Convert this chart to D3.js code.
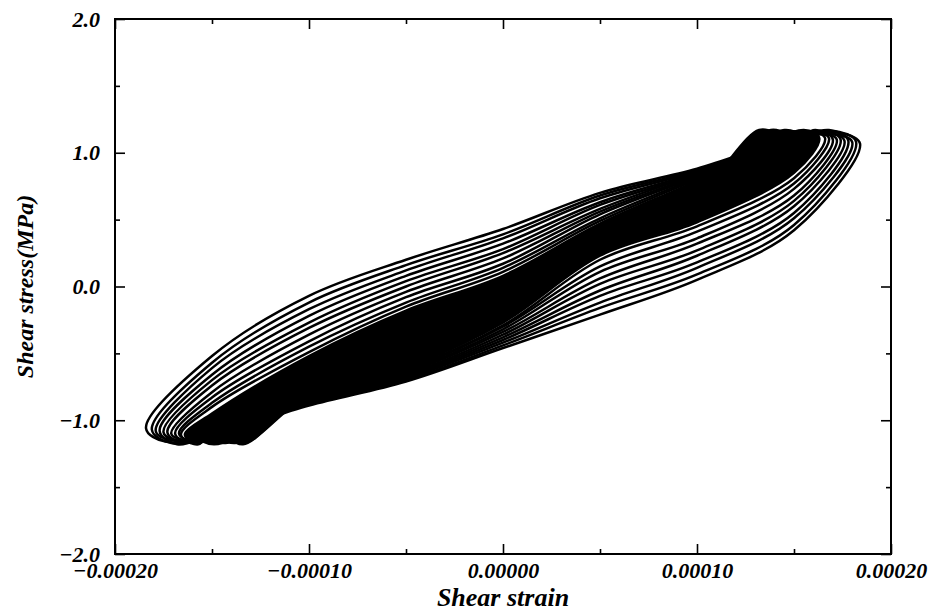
<!DOCTYPE html>
<html>
<head>
<meta charset="utf-8">
<script src="https://cdn.jsdelivr.net/npm/d3@7"></script>
<style>
  body { margin: 0; background: #fff; }
  svg text { font-family: "Liberation Serif", "Times New Roman", serif; font-style: italic; font-weight: bold; fill: #000; }
  .loop { fill: none; stroke: #000; stroke-width: 2.5; stroke-linejoin: round; }
  .loop.dense { fill: #000; }
  .axis path { display: none; }
  .axis line { stroke: #000; stroke-width: 1.6; }
</style>
</head>
<body>
<div id="chart"></div>
<script>

// axis ticks
var xTicks = [-0.0002, -0.0001, 0, 0.0001, 0.0002];
var xMinorTicks = [-0.00015, -0.00005, 0.00005, 0.00015];
var yTicks = [-2, -1, 0, 1, 2];
var yMinorTicks = [-1.5, -0.5, 0.5, 1.5];

// strain values below are in units of 1e-5
var STRAIN_UNIT = 1e-5;

var strainGrid = [-15, -10, -5, 0, 5, 10, 15];

// loops, outermost (first cycles) to innermost: [strain, stress]
// the later cycles lie on top of each other and print as one black mass
var firstDenseLoop = 10;

var leftTip = [
	[-18.4, -1.06], [-18.1, -1.07], [-17.9, -1.08], [-17.7, -1.08], [-17.5, -1.09],
	[-17.3, -1.09], [-17.1, -1.10], [-16.9, -1.10], [-16.7, -1.10], [-16.6, -1.11],
	[-16.4, -1.11], [-16.0, -1.12], [-15.7, -1.12], [-15.3, -1.12], [-15.0, -1.13],
	[-14.7, -1.13], [-14.4, -1.13], [-14.1, -1.14], [-13.9, -1.14], [-13.7, -1.14]
];
var bottomPeak = [
	[-17.4, -1.16], [-17.1, -1.17], [-17.0, -1.15], [-16.8, -1.18], [-16.6, -1.16],
	[-16.4, -1.17], [-16.3, -1.15], [-16.1, -1.17], [-15.9, -1.16], [-15.7, -1.18],
	[-15.6, -1.17], [-15.2, -1.16], [-14.9, -1.18], [-14.6, -1.16], [-14.3, -1.17],
	[-14.1, -1.15], [-13.8, -1.17], [-13.6, -1.16], [-13.4, -1.18], [-13.3, -1.17]
];
var topPeak = [
	[17.3, 1.15], [17.1, 1.16], [16.9, 1.14], [16.8, 1.17], [16.6, 1.15],
	[16.4, 1.16], [16.2, 1.14], [16.1, 1.17], [15.9, 1.15], [15.7, 1.16],
	[15.5, 1.17], [15.1, 1.15], [14.8, 1.16], [14.5, 1.17], [14.2, 1.14],
	[14.0, 1.16], [13.8, 1.17], [13.6, 1.15], [13.4, 1.16], [13.2, 1.17]
];
var rightTip = [
	[18.4, 1.07], [18.2, 1.08], [18.0, 1.08], [17.8, 1.09], [17.6, 1.09],
	[17.4, 1.10], [17.2, 1.10], [17.0, 1.10], [16.8, 1.11], [16.6, 1.11],
	[16.3, 1.11], [15.9, 1.12], [15.6, 1.12], [15.3, 1.12], [15.0, 1.13],
	[14.7, 1.13], [14.5, 1.13], [14.3, 1.14], [14.1, 1.14], [13.9, 1.14]
];

// stress on the loading (upper) branch at strainGrid, null where the loop does not reach
var upperBranch = [
	[-0.52, -0.07,  0.20,  0.43, 0.70, 0.88, 1.11],
	[-0.57, -0.12,  0.16,  0.39, 0.68, 0.87, 1.11],
	[-0.61, -0.17,  0.12,  0.36, 0.66, 0.86, 1.10],
	[-0.66, -0.22,  0.08,  0.32, 0.63, 0.85, 1.10],
	[-0.70, -0.27,  0.04,  0.28, 0.61, 0.84, 1.10],
	[-0.74, -0.31,  0.00,  0.25, 0.58, 0.84, 1.09],
	[-0.79, -0.36, -0.04,  0.21, 0.56, 0.83, 1.09],
	[-0.83, -0.41, -0.08,  0.17, 0.54, 0.82, 1.09],
	[-0.87, -0.45, -0.12,  0.14, 0.51, 0.81, 1.08],
	[-0.90, -0.49, -0.15,  0.11, 0.49, 0.80, 1.08],
	[-0.95, -0.52, -0.18,  0.08, 0.47, 0.79, null],
	[-0.99, -0.56, -0.21,  0.06, 0.46, 0.78, null],
	[-1.02, -0.59, -0.24,  0.04, 0.45, 0.77, null],
	[-1.05, -0.62, -0.27,  0.02, 0.44, 0.76, null],
	[ null, -0.65, -0.30,  0.00, 0.43, 0.75, null],
	[ null, -0.67, -0.33, -0.02, 0.42, 0.74, null],
	[ null, -0.70, -0.36, -0.04, 0.41, 0.73, null],
	[ null, -0.72, -0.38, -0.06, 0.40, 0.72, null],
	[ null, -0.74, -0.41, -0.07, 0.39, 0.71, null],
	[ null, -0.76, -0.43, -0.09, 0.38, 0.70, null]
];

// stress on the unloading (lower) branch at strainGrid
var lowerBranch = [
	[-1.11, -0.89, -0.71, -0.46, -0.21, 0.05, 0.42],
	[-1.11, -0.88, -0.70, -0.44, -0.16, 0.09, 0.46],
	[-1.10, -0.88, -0.69, -0.42, -0.12, 0.14, 0.51],
	[-1.10, -0.87, -0.68, -0.40, -0.07, 0.18, 0.55],
	[-1.10, -0.87, -0.67, -0.38, -0.03, 0.23, 0.60],
	[-1.09, -0.86, -0.66, -0.36,  0.02, 0.27, 0.64],
	[-1.09, -0.86, -0.65, -0.34,  0.06, 0.32, 0.68],
	[-1.09, -0.85, -0.64, -0.32,  0.11, 0.36, 0.73],
	[-1.08, -0.85, -0.63, -0.30,  0.15, 0.41, 0.77],
	[-1.08, -0.84, -0.62, -0.29,  0.20, 0.45, 0.81],
	[-1.07, -0.84, -0.61, -0.27,  0.23, 0.48, 0.85],
	[-1.06, -0.83, -0.59, -0.25,  0.25, 0.50, 0.89],
	[ null, -0.83, -0.57, -0.23,  0.26, 0.53, 0.93],
	[ null, -0.82, -0.55, -0.21,  0.28, 0.55, null],
	[ null, -0.82, -0.53, -0.19,  0.29, 0.57, null],
	[ null, -0.81, -0.51, -0.17,  0.31, 0.59, null],
	[ null, -0.81, -0.49, -0.15,  0.32, 0.61, null],
	[ null, -0.80, -0.48, -0.13,  0.33, 0.63, null],
	[ null, -0.80, -0.46, -0.11,  0.35, 0.65, null],
	[ null, -0.79, -0.45, -0.10,  0.36, 0.67, null]
];

var width = 932, height = 612;
var plotLeft = 115, plotRight = 891, plotTop = 19, plotBottom = 554;

var svg = d3.select("#chart").append("svg")
	.attr("width", width)
	.attr("height", height);

var x = d3.scaleLinear().domain([-0.0002, 0.0002]).range([plotLeft, plotRight]);
var y = d3.scaleLinear().domain([-2, 2]).range([plotBottom, plotTop]);

// build each loop: left tip -> loading branch -> peaks -> unloading branch -> bottom
var loops = leftTip.map(function(lt, k) {
	var pts = [lt];
	strainGrid.forEach(function(s, i) {
		if (upperBranch[k][i] !== null) pts.push([s, upperBranch[k][i]]);
	});
	pts.push(topPeak[k], rightTip[k]);
	for (var i = strainGrid.length - 1; i >= 0; i--) {
		if (lowerBranch[k][i] !== null) pts.push([strainGrid[i], lowerBranch[k][i]]);
	}
	pts.push(bottomPeak[k]);
	return pts;
});

var line = d3.line()
	.x(function(d) { return x(d[0] * STRAIN_UNIT); })
	.y(function(d) { return y(d[1]); })
	.curve(d3.curveCatmullRomClosed.alpha(0.5));

svg.append("defs").append("clipPath").attr("id", "plot-clip")
	.append("rect")
	.attr("x", plotLeft).attr("y", plotTop)
	.attr("width", plotRight - plotLeft).attr("height", plotBottom - plotTop);

svg.append("g")
	.attr("clip-path", "url(#plot-clip)")
	.selectAll("path.loop")
	.data(loops)
	.enter()
	.append("path")
	.attr("class", function(d, i) {
		return i >= firstDenseLoop ? "loop dense" : "loop";
	})
	.attr("d", line);

// ticks point inward on all four sides
function addAxis(axis, tx, ty) {
	svg.append("g")
		.attr("class", "axis")
		.attr("transform", "translate(" + tx + "," + ty + ")")
		.call(axis);
}

var fmtX = d3.format(".5f");
var fmtY = d3.format(".1f");

addAxis(d3.axisBottom(x).tickValues(xTicks).tickSizeInner(-10).tickSizeOuter(0).tickPadding(8).tickFormat(fmtX), 0, plotBottom);
addAxis(d3.axisBottom(x).tickValues(xMinorTicks).tickSizeInner(-5).tickSizeOuter(0).tickFormat(""), 0, plotBottom);
addAxis(d3.axisTop(x).tickValues(xTicks).tickSizeInner(-10).tickSizeOuter(0).tickFormat(""), 0, plotTop);
addAxis(d3.axisTop(x).tickValues(xMinorTicks).tickSizeInner(-5).tickSizeOuter(0).tickFormat(""), 0, plotTop);
addAxis(d3.axisLeft(y).tickValues(yTicks).tickSizeInner(-10).tickSizeOuter(0).tickPadding(15).tickFormat(fmtY), plotLeft, 0);
addAxis(d3.axisLeft(y).tickValues(yMinorTicks).tickSizeInner(-5).tickSizeOuter(0).tickFormat(""), plotLeft, 0);
addAxis(d3.axisRight(y).tickValues(yTicks).tickSizeInner(-10).tickSizeOuter(0).tickFormat(""), plotRight, 0);
addAxis(d3.axisRight(y).tickValues(yMinorTicks).tickSizeInner(-5).tickSizeOuter(0).tickFormat(""), plotRight, 0);

svg.selectAll(".axis text")
	.style("font-size", "22px");

// frame
svg.append("rect")
	.attr("x", plotLeft).attr("y", plotTop)
	.attr("width", plotRight - plotLeft).attr("height", plotBottom - plotTop)
	.attr("fill", "none")
	.attr("stroke", "#000")
	.attr("stroke-width", 2);

// axis titles
svg.append("text")
	.attr("x", (plotLeft + plotRight) / 2)
	.attr("y", 606)
	.attr("text-anchor", "middle")
	.style("font-size", "26px")
	.text("Shear strain");

svg.append("text")
	.attr("transform", "translate(33," + y(0) + ") rotate(-90)")
	.attr("text-anchor", "middle")
	.style("font-size", "24px")
	.text("Shear stress(MPa)");

</script>
</body>
</html>
